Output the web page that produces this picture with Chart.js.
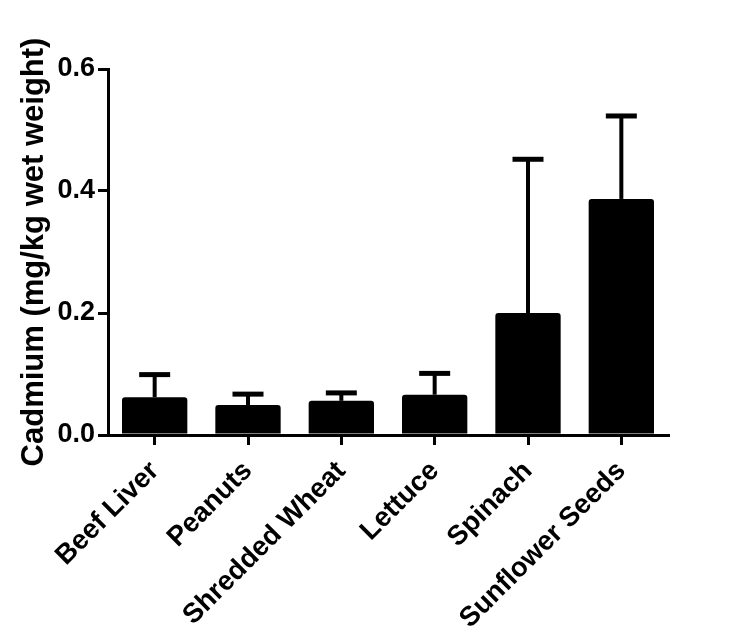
<!DOCTYPE html>
<html>
<head>
<meta charset="utf-8">
<script src="https://cdn.jsdelivr.net/npm/chart.js@4/dist/chart.umd.min.js"></script>
<style>
  body { margin: 0; background: #fff; }
</style>
</head>
<body>
<canvas id="cadmium-chart" width="750" height="633"></canvas>
<script>
const foods = ['Beef Liver', 'Peanuts', 'Shredded Wheat', 'Lettuce', 'Spinach', 'Sunflower Seeds'];
const cadmiumMean = [0.062, 0.049, 0.056, 0.066, 0.200, 0.387];
const cadmiumErr = [0.037, 0.018, 0.013, 0.035, 0.252, 0.136];
const yTicks = [0.0, 0.2, 0.4, 0.6];

// upper error bars with a cap, drawn through the y scale
const errorBars = {
    id: 'errorBars',
    afterDatasetsDraw(chart) {
        const ctx = chart.ctx;
        const yScale = chart.scales.y;
        const meta = chart.getDatasetMeta(0);
        ctx.save();
        ctx.strokeStyle = '#000';
        meta.data.forEach((bar, i) => {
            const yTop = yScale.getPixelForValue(cadmiumMean[i] + cadmiumErr[i]);
            ctx.lineWidth = 4;
            ctx.beginPath();
            ctx.moveTo(bar.x, bar.y);
            ctx.lineTo(bar.x, yTop);
            ctx.stroke();
            ctx.lineWidth = 5;
            ctx.beginPath();
            ctx.moveTo(bar.x - 15.5, yTop);
            ctx.lineTo(bar.x + 15.5, yTop);
            ctx.stroke();
        });
        ctx.restore();
    }
};

const font = { family: '"Liberation Sans", Arial, sans-serif', weight: 'bold' };

new Chart(document.getElementById('cadmium-chart'), {
    type: 'bar',
    data: {
        labels: foods,
        datasets: [{
            label: 'Cadmium',
            data: cadmiumMean,
            backgroundColor: '#000',
            borderRadius: 3,
            barPercentage: 0.7,
            categoryPercentage: 1.0
        }]
    },
    options: {
        responsive: false,
        animation: false,
        layout: { padding: { top: 69, right: 82, left: 0, bottom: 0 } },
        plugins: {
            legend: { display: false },
            tooltip: { enabled: false }
        },
        scales: {
            x: {
                afterFit: scale => { scale.height = 198; },
                grid: {
                    display: true,
                    drawOnChartArea: false,
                    offset: false,
                    tickLength: 10,
                    lineWidth: 3,
                    color: '#000'
                },
                border: { display: true, width: 3, color: '#000' },
                ticks: {
                    color: '#000',
                    font: { ...font, size: 27.5 },
                    minRotation: 45,
                    maxRotation: 45,
                    autoSkip: false,
                    padding: 10
                }
            },
            y: {
                min: 0,
                max: 0.6,
                afterFit: scale => { scale.width = 108; },
                afterBuildTicks: scale => { scale.ticks = yTicks.map(v => ({ value: v })); },
                grid: {
                    display: true,
                    drawOnChartArea: false,
                    tickLength: 10,
                    lineWidth: 3,
                    color: '#000'
                },
                border: { display: true, width: 3, color: '#000' },
                ticks: {
                    color: '#000',
                    font: { ...font, size: 27 },
                    padding: 3,
                    callback: v => v.toFixed(1)
                },
                title: {
                    display: true,
                    text: 'Cadmium (mg/kg wet weight)',
                    color: '#000',
                    font: { ...font, size: 31 },
                    padding: { top: 16, bottom: 0 }
                }
            }
        }
    },
    plugins: [errorBars]
});
</script>
</body>
</html>
